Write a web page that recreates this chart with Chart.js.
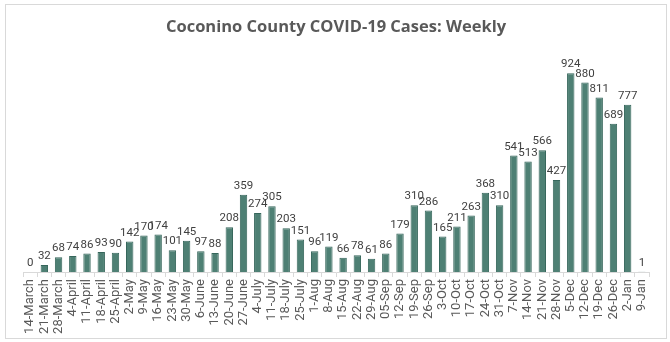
<!DOCTYPE html>
<html>
<head>
<meta charset="utf-8">
<script src="https://cdn.jsdelivr.net/npm/chart.js@4/dist/chart.umd.min.js"></script>
<style>
  html, body { margin: 0; padding: 0; background: #fff; }
  #box { position: absolute; left: 5px; top: 4px; width: 660px; height: 333px; border: 1px solid #d9d9d9; }
  #myChart { display: block; }
</style>
</head>
<body>
<div id="box"><canvas id="myChart" width="660" height="333"></canvas></div>
<script>
// weekly case counts
var weeks = ['14-March','21-March','28-March','4-April','11-April','18-April','25-April',
  '2-May','9-May','16-May','23-May','30-May','6-June','13-June','20-June','27-June',
  '4-July','11-July','18-July','25-July','1-Aug','8-Aug','15-Aug','22-Aug','29-Aug',
  '05-Sep','12-Sep','19-Sep','26-Sep','3-Oct','10-Oct','17-Oct','24-Oct','31-Oct',
  '7-Nov','14-Nov','21-Nov','28-Nov','5-Dec','12-Dec','19-Dec','26-Dec','2-Jan','9-Jan'];
var cases = [0,32,68,74,86,93,90,142,170,174,101,145,97,88,208,359,274,305,203,151,
  96,119,66,78,61,86,179,310,286,165,211,263,368,310,541,513,566,427,924,880,811,689,777,1];
var chartTitle = 'Coconino County COVID-19 Cases: Weekly';

var font = "'Open Sans', 'Liberation Sans', sans-serif";
var narrow = "Roboto, sans-serif";

// labels above each bar
var barLabels = {
  id: 'barLabels',
  afterDatasetsDraw: function (chart) {
    var ctx = chart.ctx;
    var meta = chart.getDatasetMeta(0);
    ctx.save();
    ctx.font = '11.5px ' + narrow;
    ctx.fillStyle = '#404040';
    ctx.textAlign = 'center';
    ctx.textBaseline = 'bottom';
    meta.data.forEach(function (bar, i) {
      ctx.fillText(cases[i], bar.x, bar.y - 3);
    });
    ctx.restore();
  }
};

var ctx = document.getElementById('myChart').getContext('2d');
var myChart = new Chart(ctx, {
  type: 'bar',
  data: {
    labels: weeks,
    datasets: [{
      label: 'Cases',
      data: cases,
      backgroundColor: '#4e8074',
      borderColor: '#36665b',
      borderWidth: 1,
      categoryPercentage: 1,
      barPercentage: 0.52
    }]
  },
  options: {
    responsive: false,
    animation: false,
    layout: { padding: { left: 17, right: 17, top: 0, bottom: 0 } },
    plugins: {
      legend: { display: false },
      tooltip: { enabled: false },
      title: {
        display: true,
        text: chartTitle,
        color: '#595959',
        font: { family: font, size: 16.5, weight: 'bold' },
        padding: { top: 12, bottom: 20 }
      }
    },
    scales: {
      y: { display: false, min: 0, max: 1000 },
      x: {
        offset: true,
        grid: { display: true, drawOnChartArea: false, offset: true, color: '#d9d9d9', tickLength: 5 },
        border: { color: '#d9d9d9' },
        ticks: {
          autoSkip: false,
          minRotation: 90,
          maxRotation: 90,
          padding: 2,
          color: '#595959',
          font: { family: narrow, size: 13 }
        },
        afterFit: function (scale) { scale.height = 66; }
      }
    }
  },
  plugins: [barLabels]
});
</script>
</body>
</html>
